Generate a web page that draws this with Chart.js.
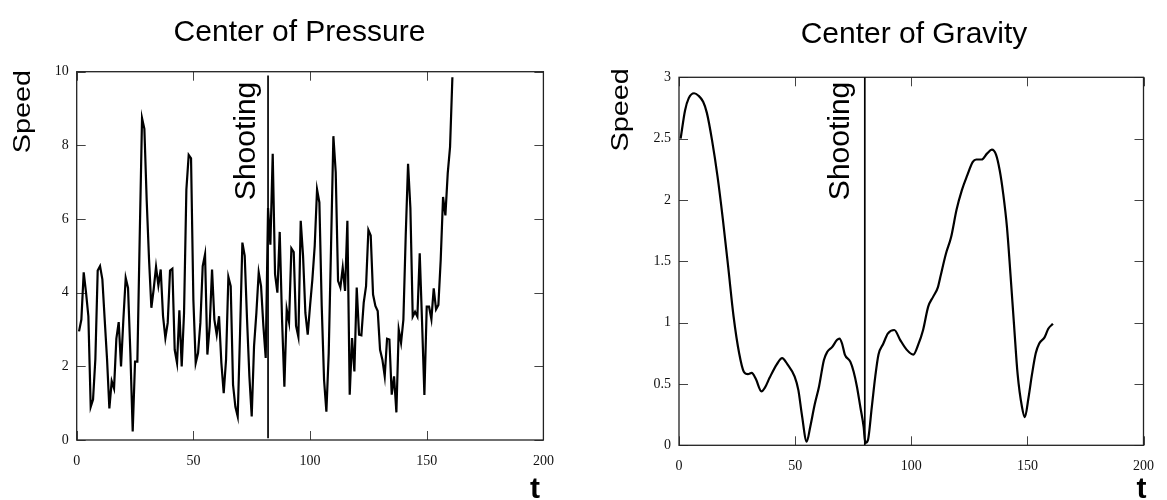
<!DOCTYPE html>
<html><head><meta charset="utf-8">
<script src="https://cdn.jsdelivr.net/npm/chart.js@4.4.1/dist/chart.umd.min.js"></script>
<style>
html,body{margin:0;padding:0;background:#fff;}
#wrap{position:relative;width:1167px;height:500px;overflow:hidden;}
canvas{position:absolute;top:0;}
#cop{left:0;}
#cog{left:583px;}
</style></head><body>
<div id="wrap"><canvas id="cop" width="583" height="500"></canvas><canvas id="cog" width="584" height="500"></canvas></div>
<script>
// ---- texts ----
const copTitle = 'Center of Pressure';
const cogTitle = 'Center of Gravity';
const yAxisLabel = 'Speed';
const xAxisLabel = 't';
const eventLabel = 'Shooting';

// ---- tick labels ----
const xTickValues = [0, 50, 100, 150, 200];
const copYTickValues = [0, 2, 4, 6, 8, 10];
const cogYTickValues = [0, 0.5, 1, 1.5, 2, 2.5, 3];

// ---- Center of Pressure series ----
const copTime = [1,2,3,4,5,6,7,8,9,10,11,12,13,14,15,16,17,18,19,20,21,22,23,24,25,26,27,28,29,30,
31,32,33,34,35,36,37,38,39,40,41,42,43,44,45,46,47,48,49,50,51,52,53,54,55,56,57,58,59,60,
61,62,63,64,65,66,67,68,69,70,71,72,73,74,75,76,77,78,79,80,81,82,83,84,85,86,87,88,89,90,
91,92,93,94,95,96,97,98,99,100,101,102,103,104,105,106,107,108,109,110,111,112,113,114,115,116,117,118,119,120,
121,122,123,124,125,126,127,128,129,130,131,132,133,134,135,136,137,138,139,140,141,142,143,144,145,146,147,148,149,150,
151,152,153,154,155,156,157,158,159,160,161];
const copSpeed = [2.95,3.27,4.55,4.0,3.36,0.9,1.1,2.2,4.6,4.72,
4.36,3.27,2.2,0.86,1.6,1.4,2.75,3.2,2.0,3.27,
4.4,4.13,2.36,0.23,2.13,2.13,5.5,8.74,8.45,6.5,
4.9,3.59,4.1,4.7,4.2,4.63,3.36,2.77,3.18,4.6,
4.65,2.45,2.09,3.52,2.0,3.45,6.8,7.74,7.65,3.8,
2.09,2.36,3.18,4.72,5.04,2.32,3.1,4.63,3.27,2.86,
3.36,2.09,1.27,2.18,4.43,4.18,1.5,0.9,0.64,2.9,
5.36,5.0,3.27,1.73,0.64,2.55,3.45,4.55,4.18,3.1,
2.23,6.3,5.3,7.77,4.5,4.0,5.65,3.27,1.45,3.55,
3.2,5.2,5.1,3.1,2.8,5.95,5.0,3.45,2.86,3.64,
4.36,5.27,6.8,6.45,3.64,1.64,0.77,2.36,5.27,8.25,
7.27,4.32,4.14,4.68,4.05,5.95,1.23,2.77,1.86,4.14,
2.86,2.84,3.73,4.18,5.7,5.55,3.95,3.64,3.5,2.45,
2.18,1.73,2.75,2.73,1.23,1.73,0.75,3.0,2.64,3.27,
5.55,7.5,6.3,3.35,3.48,3.35,5.07,3.2,1.22,3.62,
3.62,3.28,4.12,3.55,3.67,4.9,6.6,6.1,7.24,7.96,
9.85];
const copShootingTime = 82;
const copShootingSpan = [0.05, 9.9];

// ---- Center of Gravity series ----
const cogTime = [0.7,2.6,4.2,6.5,8.4,10.4,12,14.2,16.6,18.9,21.2,23.5,25.9,27.9,29.7,31.3,33.1,35.5,37,39,
42.1,44.4,46.7,49.8,51.4,52.9,55,56.5,58.4,60.3,62.4,63.8,65.9,68.1,69.1,70.2,71.4,73.8,75.2,76.6,
78.1,79.5,80.2,81.3,83,84.5,85.9,88,89.9,92.7,95.2,98,100.9,103,105.1,107.3,109.4,111.5,112.5,114.9,
117.2,119.5,121.8,124.1,126.5,128,130.3,132.7,134.7,136.5,138.1,139.6,141.2,142.7,144.3,145.8,147.7,148.9,150.5,152,
153.6,155.1,157.4,159,161];
const cogSpeed = [2.50,2.73,2.83,2.87,2.85,2.80,2.71,2.49,2.19,1.84,1.45,1.05,0.75,0.60,0.58,0.59,0.54,0.44,0.47,0.55,
0.66,0.71,0.66,0.56,0.45,0.25,0.03,0.15,0.33,0.48,0.695,0.76,0.80,0.86,0.87,0.83,0.74,0.68,0.60,0.48,
0.31,0.15,0.02,0.04,0.31,0.56,0.74,0.83,0.91,0.94,0.86,0.78,0.74,0.82,0.94,1.13,1.21,1.29,1.37,1.56,
1.70,1.92,2.08,2.20,2.31,2.33,2.33,2.38,2.41,2.37,2.24,2.05,1.78,1.40,0.97,0.58,0.31,0.23,0.39,0.58,
0.75,0.83,0.88,0.95,0.99];
const cogShootingTime = 80;
const cogShootingSpan = [0, 3];

const SANS = '"Liberation Sans", Arial, Helvetica, sans-serif';
const SERIF = '"Liberation Serif", "Times New Roman", serif';

const framePlugin = {
  id: 'frameTicks',
  beforeDatasetsDraw(chart) {
    const ctx = chart.ctx, a = chart.chartArea;
    const xs = chart.scales.x, ys = chart.scales.y;
    ctx.save();
    ctx.strokeStyle = '#444';
    ctx.lineWidth = 1;
    const L = 9;
    ctx.beginPath();
    xs.ticks.forEach(t => {
      const px = Math.round(xs.getPixelForValue(t.value)) + 0.5;
      ctx.moveTo(px, a.bottom); ctx.lineTo(px, a.bottom - L);
      ctx.moveTo(px, a.top); ctx.lineTo(px, a.top + L);
    });
    ys.ticks.forEach(t => {
      const py = Math.round(ys.getPixelForValue(t.value)) + 0.5;
      ctx.moveTo(a.left, py); ctx.lineTo(a.left + L, py);
      ctx.moveTo(a.right, py); ctx.lineTo(a.right - L, py);
    });
    ctx.stroke();
    ctx.strokeStyle = '#222';
    ctx.lineWidth = 1.3;
    ctx.strokeRect(a.left, a.top, a.right - a.left, a.bottom - a.top);
    ctx.restore();
  },
  afterDraw(chart, args, o) {
    const ctx = chart.ctx;
    ctx.save();
    ctx.fillStyle = '#000';
    ctx.textBaseline = 'alphabetic';
    // main title
    ctx.font = '30px ' + SANS;
    ctx.textAlign = 'center';
    ctx.fillText(o.title, o.titleX, o.titleY);
    // y axis label (rotated)
    ctx.save();
    ctx.translate(o.speedX, o.speedTop);
    ctx.rotate(-Math.PI / 2);
    ctx.scale(1.2, 1);
    ctx.font = '24px ' + SANS;
    ctx.textAlign = 'right';
    ctx.fillText(yAxisLabel, 0, 0);
    ctx.restore();
    // x axis label
    ctx.font = 'bold 30px ' + SANS;
    ctx.textAlign = 'center';
    ctx.fillText(xAxisLabel, o.tX, o.tY);
    // event label next to the vertical line
    ctx.font = '30px ' + SANS;
    const lx = chart.scales.x.getPixelForValue(o.eventTime);
    ctx.save();
    ctx.translate(lx - o.eventGap, o.eventTop);
    ctx.rotate(-Math.PI / 2);
    ctx.textAlign = 'right';
    ctx.fillText(eventLabel, 0, 0);
    ctx.restore();
    ctx.restore();
  }
};

function buildChart(id, cfg) {
  const series = cfg.time.map((t, i) => ({x: t, y: cfg.speed[i]}));
  return new Chart(document.getElementById(id), {
    type: 'line',
    data: {
      datasets: [
        {
          data: series,
          borderColor: '#000',
          borderWidth: 2.2,
          pointRadius: 0,
          tension: cfg.smooth ? 0.4 : 0,
          cubicInterpolationMode: cfg.smooth ? 'monotone' : 'default',
          fill: false
        },
        {
          data: [{x: cfg.eventTime, y: cfg.eventSpan[0]}, {x: cfg.eventTime, y: cfg.eventSpan[1]}],
          borderColor: '#000',
          borderWidth: 1.7,
          pointRadius: 0,
          tension: 0,
          fill: false
        }
      ]
    },
    options: {
      responsive: false,
      animation: false,
      devicePixelRatio: 1,
      layout: {padding: {left: 0, right: cfg.padRight, top: cfg.padTop, bottom: 0}},
      plugins: {
        legend: {display: false},
        tooltip: {enabled: false},
        title: {display: false},
        frameTicks: cfg.text
      },
      scales: {
        x: {
          type: 'linear', min: 0, max: 200,
          afterBuildTicks: s => { s.ticks = xTickValues.map(v => ({value: v})); },
          afterFit: s => { s.height = cfg.xAxisHeight; },
          ticks: {font: {family: SERIF, size: 14}, color: '#111', padding: 13, maxRotation: 0, autoSkip: false,
                  callback: v => String(v)},
          grid: {display: false, drawTicks: false},
          border: {display: false}
        },
        y: {
          type: 'linear', min: cfg.yTicks[0], max: cfg.yTicks[cfg.yTicks.length - 1],
          afterBuildTicks: s => { s.ticks = cfg.yTicks.map(v => ({value: v})); },
          afterFit: s => { s.width = cfg.yAxisWidth; },
          ticks: {font: {family: SERIF, size: 14}, color: '#111', padding: 8, autoSkip: false,
                  callback: v => String(v)},
          grid: {display: false, drawTicks: false},
          border: {display: false}
        }
      }
    },
    plugins: [framePlugin]
  });
}

buildChart('cop', {
  time: copTime, speed: copSpeed, smooth: false,
  eventTime: copShootingTime, eventSpan: copShootingSpan,
  yTicks: copYTickValues,
  padRight: 39.6, padTop: 71.7, xAxisHeight: 60, yAxisWidth: 76.7,
  text: {title: copTitle, titleX: 299.5, titleY: 40.7, speedX: 29.9, speedTop: 70,
         tX: 535, tY: 498, eventTime: copShootingTime, eventGap: 13.5, eventTop: 81.7}
});

buildChart('cog', {
  time: cogTime, speed: cogSpeed, smooth: true,
  eventTime: cogShootingTime, eventSpan: cogShootingSpan,
  yTicks: cogYTickValues,
  padRight: 20, padTop: 77.3, xAxisHeight: 54.7, yAxisWidth: 96,
  text: {title: cogTitle, titleX: 331, titleY: 43, speedX: 45.1, speedTop: 68.3,
         tX: 558.5, tY: 498, eventTime: cogShootingTime, eventGap: 16.2, eventTop: 81.7}
});
</script>
</body></html>
